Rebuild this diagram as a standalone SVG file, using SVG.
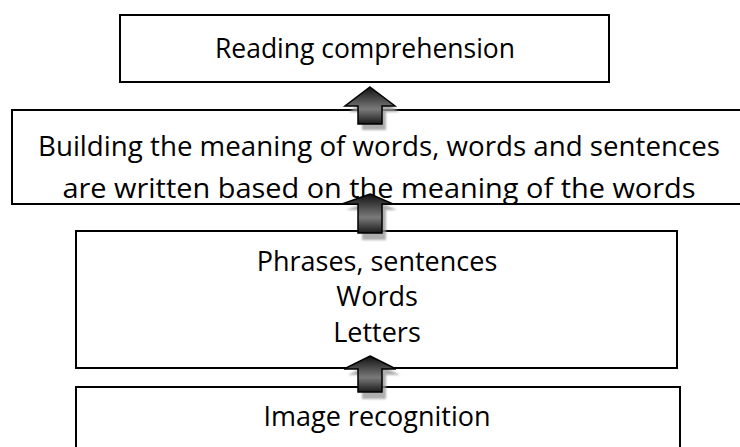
<svg xmlns="http://www.w3.org/2000/svg" width="740" height="447" viewBox="0 0 740 447">
  <style>
    .box { fill: #ffffff; stroke: #000000; stroke-width: 2; }
    .label { font-family: "Open Sans", "Liberation Sans", sans-serif; font-size: 27px; fill: #000000; text-anchor: middle; }
    .arrow { fill: url(#arrowFill); stroke: #000000; stroke-width: 1.5; stroke-linejoin: miter; }
    .arrowShadow { fill: #9a9a9a; opacity: 0.8; filter: url(#soft); }
  </style>
  <defs>
    <linearGradient id="arrowFill" x1="0" y1="0" x2="0" y2="1">
      <stop offset="0" stop-color="#111111"/>
      <stop offset="0.6" stop-color="#7a7a7a"/>
      <stop offset="1" stop-color="#1a1a1a"/>
    </linearGradient>
    <filter id="soft" x="-20%" y="-20%" width="140%" height="140%">
      <feGaussianBlur stdDeviation="0.8"/>
    </filter>
    <clipPath id="clipMeaning">
      <rect x="12" y="110" width="740" height="94"/>
    </clipPath>
  </defs>

  <!-- top node -->
  <g id="comprehension">
    <rect class="box" x="120" y="15" width="489" height="67"/>
    <text class="label" x="365" y="58" textLength="300" lengthAdjust="spacingAndGlyphs">Reading comprehension</text>
  </g>

  <!-- meaning node, text cut at its lower edge -->
  <g id="meaning">
    <rect class="box" x="12" y="110" width="740" height="94"/>
    <g clip-path="url(#clipMeaning)">
      <text class="label" x="379" y="156" textLength="682" lengthAdjust="spacingAndGlyphs">Building the meaning of words, words and sentences</text>
      <text class="label" x="379" y="198" textLength="633" lengthAdjust="spacingAndGlyphs">are written based on the meaning of the words</text>
    </g>
  </g>

  <!-- units node -->
  <g id="units">
    <rect class="box" x="76" y="231" width="601" height="137"/>
    <text class="label" x="377" y="271">Phrases, sentences</text>
    <text class="label" x="377" y="306">Words</text>
    <text class="label" x="377" y="342">Letters</text>
  </g>

  <!-- bottom node -->
  <g id="recognition">
    <rect class="box" x="76" y="387" width="604" height="80"/>
    <text class="label" x="377" y="426">Image recognition</text>
  </g>

  <!-- block arrows pointing upward -->
  <g id="connectors">
    <polygon class="arrowShadow" points="374,93 399,112 386,112 386,130 362,130 362,112 349,112"/>
    <polygon class="arrow" points="370,87 395,106 382,106 382,124 358,124 358,106 345,106"/>

    <polygon class="arrowShadow" points="374,200 397,210 386,210 386,240 362,240 362,210 346,210"/>
    <polygon class="arrow" points="370,194 393,204 382,204 382,233 358,233 358,204 342,204"/>

    <polygon class="arrowShadow" points="374,362 400,375 386,375 386,399 362,399 362,375 348,375"/>
    <polygon class="arrow" points="370,356 396,369 382,369 382,392 358,392 358,369 344,369"/>
  </g>
</svg>
